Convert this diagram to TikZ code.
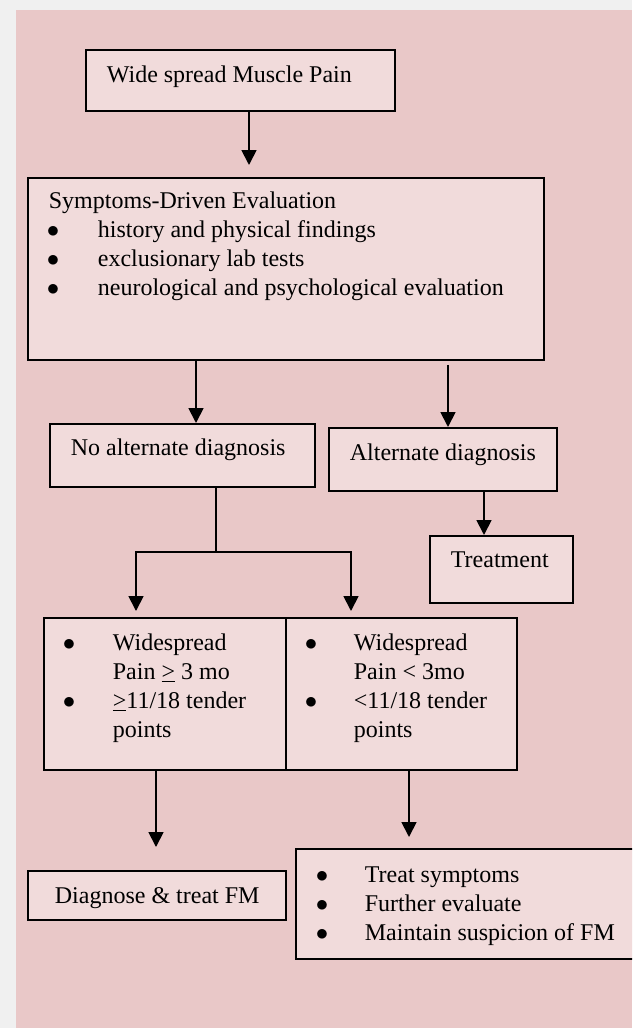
\documentclass[tikz,border=0pt]{standalone}
\usepackage{fontspec}
\setmainfont{Liberation Serif}
\usetikzlibrary{arrows.meta}
\definecolor{outergrey}{HTML}{F0F0F0}
\definecolor{panelpink}{HTML}{E9C8C8}
\definecolor{boxpink}{HTML}{F1DBDB}
% box text: width, left padding, lines
\newcommand{\boxlines}[3]{\parbox[t]{#1}{\leftskip=#2\relax #3}}
\newcommand{\bul}[1][48pt]{\makebox[#1][l]{\hspace{-2pt}$\bullet$}}

\begin{document}
\begin{tikzpicture}[x=1pt,y=-1pt,
  box/.style={draw,fill=boxpink,line width=1.8pt,anchor=north west,inner sep=0pt,
    font=\fontsize{24}{28.8}\selectfont},
  arr/.style={line width=1.8pt,-{Triangle[length=15pt,width=15pt]}},
  link/.style={line width=1.8pt}]

  \useasboundingbox (0,0) rectangle (632,1028);
  \clip (0,0) rectangle (632,1028);
  \fill[outergrey] (0,0) rectangle (632,1028);
  \fill[panelpink] (16,10) rectangle (632,1028);

  \node[box,text height=33pt,text depth=28pt] (pain) at (85,49)
    {\boxlines{309pt}{21pt}{Wide spread Muscle Pain}};
  \node[box,text height=31pt,text depth=151pt] (eval) at (27,177)
    {\boxlines{516pt}{21pt}{Symptoms-Driven Evaluation\\
      \bul[49pt]history and physical findings\\
      \bul[49pt]exclusionary lab tests\\
      \bul[49pt]neurological and psychological evaluation}};
  \node[box,text height=32pt,text depth=31pt] (noalt) at (49,423)
    {\boxlines{265pt}{21pt}{No alternate diagnosis}};
  \node[box,text height=33pt,text depth=30pt] (alt) at (328,427)
    {\boxlines{228pt}{21pt}{Alternate diagnosis}};
  \node[box,text height=32pt,text depth=35pt] (treat) at (429,535)
    {\boxlines{143pt}{21pt}{Treatment}};
  \node[box,text height=33pt,text depth=119pt] (ge) at (43,617)
    {\boxlines{242pt}{21pt}{\bul Widespread\\ \hspace*{48pt}Pain \underline{>} 3 mo\\
      \bul\underline{>}11/18 tender\\ \hspace*{48pt}points}};
  \node[box,text height=33pt,text depth=119pt] (lt) at (285,617)
    {\boxlines{231pt}{21pt}{\bul[47pt]Widespread\\ \hspace*{47pt}Pain < 3mo\\
      \bul[47pt]<11/18 tender\\ \hspace*{47pt}points}};
  \node[box,text height=33pt,text depth=16pt] (fm) at (27,870)
    {\boxlines{258pt}{27pt}{Diagnose \& treat FM}};
  \node[box,text height=34pt,text depth=76pt] (sym) at (295,848)
    {\boxlines{360pt}{22pt}{\bul[47pt]Treat symptoms\\
      \bul[47pt]Further evaluate\\
      \bul[47pt]Maintain suspicion of FM}};

  \coordinate (split) at (216,552);

  \path[arr]
  ([xshift=164pt]pain.south west) edge ([xshift=222pt,yshift=12pt]eval.north west)
  ([xshift=169pt]eval.south west) edge ([xshift=147pt]noalt.north west)
  ([xshift=421pt,yshift=-4pt]eval.south west) edge ([xshift=120pt]alt.north west)
  ([xshift=156pt]alt.south west) edge ([xshift=55pt]treat.north west)
  ([xshift=113pt]ge.south west) edge ([xshift=129pt,yshift=23pt]fm.north west)
  ([xshift=124pt]lt.south west) edge ([xshift=114pt,yshift=11pt]sym.north west);

  \draw[link] ([xshift=167pt]noalt.south west) -- (split);
  \draw[arr] (split) -| ([xshift=93pt,yshift=6pt]ge.north west);
  \draw[arr] (split) -| ([xshift=66pt,yshift=6pt]lt.north west);
\end{tikzpicture}
\end{document}
